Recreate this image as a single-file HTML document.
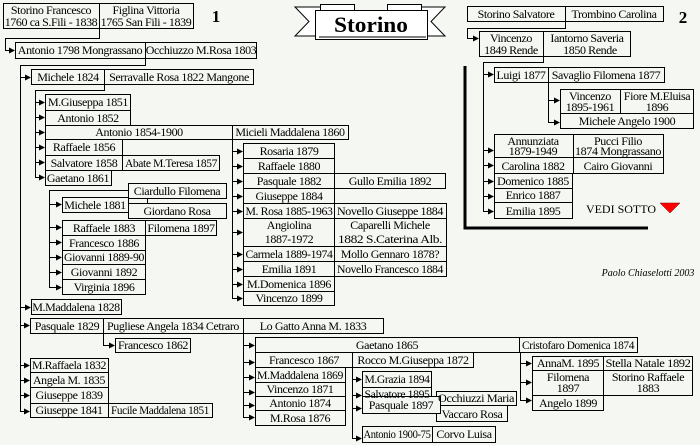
<!DOCTYPE html>
<html><head><meta charset="utf-8"><style>
html,body{margin:0;padding:0;background:#f5f7f2;}
svg{display:block}
text{font-family:"Liberation Serif",serif;font-size:12px;letter-spacing:-0.4px;fill:#000;text-anchor:middle}
</style></head><body>
<svg width="700" height="445" viewBox="0 0 700 445" xmlns="http://www.w3.org/2000/svg">
<g fill="none" stroke="#000" stroke-width="1" shape-rendering="crispEdges">
<path d="M99.5,28 V38.5 H5.5 V50.5 H10"/>
<path d="M145.5,58 V65.5 H20.5 V411.5"/>
<path d="M20,77.5 H26 M20,307.5 H26 M20,325.5 H25 M20,365.5 H25 M20,380.5 H25 M20,395.5 H25 M20,411.5 H25"/>
<path d="M104.5,84 V90.5 H35.5 V177.5"/>
<path d="M35,102.5 H40 M35,117.5 H40 M35,132.5 H40 M35,147.5 H40 M35,162.5 H40 M35,177.5 H40"/>
<path d="M49.5,190.5 H128 M49.5,190 V287.5 M147.5,198 V203"/>
<path d="M49,204.5 H57 M49,227.5 H57 M49,242.5 H57 M49,257.5 H57 M49,272.5 H57 M49,287.5 H57"/>
<path d="M232.5,139 V298.5"/>
<path d="M232,151.5 H238 M232,166.5 H238 M232,181.5 H238 M232,196.5 H238 M232,211.5 H238 M232,232.5 H238 M232,254.5 H238 M232,269.5 H238 M232,284.5 H238 M232,298.5 H238"/>
<path d="M103.5,333 V345.5 H110"/>
<path d="M243.5,333 V417.5"/>
<path d="M243,345.5 H250 M243,362.5 H250 M243,377.5 H250 M243,392.5 H250 M243,405.5 H250 M243,417.5 H250"/>
<path d="M352.5,367 V438.5"/>
<path d="M352,379.5 H357 M352,395.5 H357 M352,408.5 H357 M352,438.5 H357"/>
<path d="M520.5,352 V400.5"/>
<path d="M520,363.5 H527 M520,382.5 H527 M520,400.5 H527"/>
<path d="M565.5,21 V28.5 H467.5 V38.5 H474"/>
<path d="M543.5,56 V62.5 H483.5 V211.5"/>
<path d="M483,74.5 H489 M483,150.5 H489 M483,165.5 H489 M483,181.5 H489 M483,196.5 H489 M483,211.5 H489"/>
<path d="M548.5,82 V122.5"/>
<path d="M548,100.5 H555 M548,122.5 H555"/>
</g>
<polyline points="465,66 465,228 648,228" fill="none" stroke="#000" stroke-width="3"/>
<g fill="#000">
<polygon points="9,47.5 15,50.5 9,53.5"/>
<polygon points="25,74.5 31,77.5 25,80.5"/>
<polygon points="25,304.5 31,307.5 25,310.5"/>
<polygon points="24,322.5 30,325.5 24,328.5"/>
<polygon points="24,362.5 30,365.5 24,368.5"/>
<polygon points="24,377.5 30,380.5 24,383.5"/>
<polygon points="24,392.5 30,395.5 24,398.5"/>
<polygon points="24,408.5 30,411.5 24,414.5"/>
<polygon points="39,99.5 45,102.5 39,105.5"/>
<polygon points="39,114.5 45,117.5 39,120.5"/>
<polygon points="39,129.5 45,132.5 39,135.5"/>
<polygon points="39,144.5 45,147.5 39,150.5"/>
<polygon points="39,159.5 45,162.5 39,165.5"/>
<polygon points="39,174.5 45,177.5 39,180.5"/>
<polygon points="56,201.5 62,204.5 56,207.5"/>
<polygon points="56,224.5 62,227.5 56,230.5"/>
<polygon points="56,239.5 62,242.5 56,245.5"/>
<polygon points="56,254.5 62,257.5 56,260.5"/>
<polygon points="56,269.5 62,272.5 56,275.5"/>
<polygon points="56,284.5 62,287.5 56,290.5"/>
<polygon points="237,148.5 243,151.5 237,154.5"/>
<polygon points="237,163.5 243,166.5 237,169.5"/>
<polygon points="237,178.5 243,181.5 237,184.5"/>
<polygon points="237,193.5 243,196.5 237,199.5"/>
<polygon points="237,208.5 243,211.5 237,214.5"/>
<polygon points="237,229.5 243,232.5 237,235.5"/>
<polygon points="237,251.5 243,254.5 237,257.5"/>
<polygon points="237,266.5 243,269.5 237,272.5"/>
<polygon points="237,281.5 243,284.5 237,287.5"/>
<polygon points="237,295.5 243,298.5 237,301.5"/>
<polygon points="109,342.5 115,345.5 109,348.5"/>
<polygon points="249,342.5 255,345.5 249,348.5"/>
<polygon points="249,359.5 255,362.5 249,365.5"/>
<polygon points="249,374.5 255,377.5 249,380.5"/>
<polygon points="249,389.5 255,392.5 249,395.5"/>
<polygon points="249,402.5 255,405.5 249,408.5"/>
<polygon points="249,414.5 255,417.5 249,420.5"/>
<polygon points="356,376.5 362,379.5 356,382.5"/>
<polygon points="356,392.5 362,395.5 356,398.5"/>
<polygon points="356,405.5 362,408.5 356,411.5"/>
<polygon points="356,435.5 362,438.5 356,441.5"/>
<polygon points="526,360.5 532,363.5 526,366.5"/>
<polygon points="526,379.5 532,382.5 526,385.5"/>
<polygon points="526,397.5 532,400.5 526,403.5"/>
<polygon points="473,35.5 479,38.5 473,41.5"/>
<polygon points="488,71.5 494,74.5 488,77.5"/>
<polygon points="488,147.5 494,150.5 488,153.5"/>
<polygon points="488,162.5 494,165.5 488,168.5"/>
<polygon points="488,178.5 494,181.5 488,184.5"/>
<polygon points="488,193.5 494,196.5 488,199.5"/>
<polygon points="488,208.5 494,211.5 488,214.5"/>
<polygon points="554,97.5 560,100.5 554,103.5"/>
<polygon points="554,119.5 560,122.5 554,125.5"/>
</g>
<polygon points="660,203 680,203 670,213" fill="#ff0000" stroke="#800000" stroke-width="0.5"/>
<g fill="none" stroke="#000" shape-rendering="crispEdges">
<rect x="3.5" y="3.5" width="96" height="25"/><rect x="99.5" y="3.5" width="94" height="25"/>
<rect x="15.5" y="42.5" width="130" height="16"/><rect x="145.5" y="42.5" width="111" height="16"/>
<rect x="31.5" y="69.5" width="73" height="15"/><rect x="104.5" y="69.5" width="149" height="15"/>
<rect x="45.5" y="94.5" width="85" height="16"/><rect x="45.5" y="110.5" width="85" height="15"/>
<rect x="45.5" y="125.5" width="187" height="14"/><rect x="232.5" y="125.5" width="116" height="14"/>
<rect x="45.5" y="139.5" width="77" height="16"/><rect x="45.5" y="155.5" width="77" height="15"/>
<rect x="122.5" y="155.5" width="97" height="15"/><rect x="45.5" y="170.5" width="66" height="15"/>
<rect x="128.5" y="183.5" width="98" height="15"/><rect x="62.5" y="197.5" width="66" height="15"/>
<rect x="128.5" y="203.5" width="98" height="15"/>
<rect x="62.5" y="220.5" width="83" height="15"/><rect x="145.5" y="220.5" width="71" height="15"/>
<rect x="62.5" y="235.5" width="83" height="15"/><rect x="62.5" y="250.5" width="83" height="14"/>
<rect x="62.5" y="264.5" width="83" height="15"/><rect x="62.5" y="279.5" width="83" height="15"/>
<rect x="243.5" y="143.5" width="91" height="15"/><rect x="243.5" y="158.5" width="91" height="15"/>
<rect x="243.5" y="173.5" width="91" height="15"/><rect x="334.5" y="173.5" width="111" height="15"/>
<rect x="243.5" y="188.5" width="91" height="15"/><rect x="243.5" y="203.5" width="91" height="15"/>
<rect x="334.5" y="203.5" width="112" height="15"/><rect x="243.5" y="218.5" width="91" height="28"/>
<rect x="334.5" y="218.5" width="112" height="28"/><rect x="243.5" y="246.5" width="91" height="15"/>
<rect x="334.5" y="246.5" width="112" height="15"/><rect x="243.5" y="261.5" width="91" height="15"/>
<rect x="334.5" y="261.5" width="112" height="15"/><rect x="243.5" y="276.5" width="91" height="15"/>
<rect x="243.5" y="291.5" width="91" height="14"/>
<rect x="31.5" y="299.5" width="90" height="15"/>
<rect x="30.5" y="318.5" width="73" height="15"/><rect x="103.5" y="318.5" width="140" height="15"/>
<rect x="243.5" y="318.5" width="140" height="15"/>
<rect x="115.5" y="338.5" width="75" height="14"/>
<rect x="30.5" y="358.5" width="78" height="14"/><rect x="30.5" y="372.5" width="78" height="15"/>
<rect x="30.5" y="387.5" width="78" height="16"/><rect x="30.5" y="403.5" width="78" height="14"/>
<rect x="108.5" y="403.5" width="104" height="14"/>
<rect x="255.5" y="337.5" width="264" height="15"/><rect x="519.5" y="337.5" width="118" height="15"/>
<rect x="255.5" y="352.5" width="97" height="15"/><rect x="352.5" y="352.5" width="121" height="15"/>
<rect x="255.5" y="367.5" width="90" height="15"/><rect x="255.5" y="382.5" width="90" height="14"/>
<rect x="255.5" y="396.5" width="90" height="14"/><rect x="255.5" y="410.5" width="90" height="15"/>
<rect x="362.5" y="371.5" width="69" height="16"/><rect x="362.5" y="387.5" width="69" height="14"/>
<rect x="436.5" y="391.5" width="80" height="14"/><rect x="436.5" y="405.5" width="71" height="16"/>
<rect x="362.5" y="396.5" width="78" height="17" fill="#f5f7f2"/>
<rect x="362.5" y="426.5" width="70" height="16"/><rect x="432.5" y="426.5" width="63" height="16"/>
<rect x="532.5" y="356.5" width="71" height="14"/><rect x="603.5" y="356.5" width="89" height="14"/>
<rect x="532.5" y="370.5" width="71" height="25"/><rect x="603.5" y="370.5" width="89" height="25"/>
<rect x="532.5" y="395.5" width="71" height="15"/>
<rect x="467.5" y="6.5" width="98" height="15"/><rect x="565.5" y="6.5" width="98" height="15"/>
<rect x="479.5" y="31.5" width="64" height="25"/><rect x="543.5" y="31.5" width="87" height="25"/>
<rect x="494.5" y="67.5" width="54" height="15"/><rect x="548.5" y="67.5" width="116" height="15"/>
<rect x="560.5" y="89.5" width="60" height="24"/><rect x="620.5" y="89.5" width="73" height="24"/>
<rect x="560.5" y="113.5" width="133" height="15"/>
<rect x="494.5" y="134.5" width="79" height="23"/><rect x="573.5" y="134.5" width="90" height="23"/>
<rect x="494.5" y="157.5" width="79" height="16"/><rect x="573.5" y="157.5" width="90" height="16"/>
<rect x="494.5" y="173.5" width="78" height="15"/><rect x="494.5" y="188.5" width="78" height="14"/>
<rect x="494.5" y="202.5" width="78" height="16"/>
</g>
<g fill="#fff" stroke="#000" stroke-width="1">
<polygon points="295,7 322,7 322,36 295,36 309,21.5"/>
<polygon points="445,7 420,7 420,36 445,36 431,21.5"/>
<rect x="320.5" y="4.5" width="34" height="8"/>
<rect x="387.5" y="4.5" width="34" height="8"/>
<rect x="315.5" y="10.5" width="112" height="29"/>
<line x1="319" y1="37" x2="426" y2="37"/>
</g>
<text x="371" y="32" textLength="74" lengthAdjust="spacingAndGlyphs" style="font-size:22px;font-weight:bold;letter-spacing:0">Storino</text>
<text x="216" y="22" style="font-size:17px;font-weight:bold;letter-spacing:0">1</text>
<text x="683" y="23" style="font-size:17px;font-weight:bold;letter-spacing:0">2</text>
<text x="51" y="14">Storino Francesco</text><text x="51" y="26">1760 ca S.Fili - 1838</text>
<text x="146" y="14">Figlina Vittoria</text><text x="146" y="26">1765 San Fili - 1839</text>
<text x="80" y="54">Antonio 1798 Mongrassano</text><text x="201" y="54">Occhiuzzo M.Rosa 1803</text>
<text x="68" y="81">Michele 1824</text><text x="179" y="81">Serravalle Rosa 1822 Mangone</text>
<text x="88" y="106">M.Giuseppa 1851</text><text x="88" y="122">Antonio 1852</text>
<text x="139" y="136">Antonio 1854-1900</text><text x="290" y="136">Micieli Maddalena 1860</text>
<text x="84" y="151">Raffaele 1856</text><text x="84" y="167">Salvatore 1858</text>
<text x="171" y="167" textLength="92" lengthAdjust="spacingAndGlyphs">Abate M.Teresa 1857</text><text x="78" y="182">Gaetano 1861</text>
<text x="177" y="195">Ciardullo Filomena</text><text x="95" y="209">Michele 1881</text>
<text x="177" y="215">Giordano Rosa</text>
<text x="104" y="232">Raffaele 1883</text><text x="181" y="232">Filomena 1897</text>
<text x="104" y="247">Francesco 1886</text><text x="104" y="261" textLength="80" lengthAdjust="spacingAndGlyphs">Giovanni 1889-90</text>
<text x="104" y="276">Giovanni 1892</text><text x="104" y="291">Virginia 1896</text>
<text x="289" y="155">Rosaria 1879</text><text x="289" y="170">Raffaele 1880</text>
<text x="289" y="185">Pasquale 1882</text><text x="390" y="185">Gullo Emilia 1892</text>
<text x="289" y="200">Giuseppe 1884</text><text x="289" y="215" textLength="87" lengthAdjust="spacingAndGlyphs">M. Rosa 1885-1963</text>
<text x="390" y="215" textLength="106" lengthAdjust="spacingAndGlyphs">Novello Giuseppe 1884</text>
<text x="289" y="229">Angiolina</text><text x="289" y="243">1887-1972</text>
<text x="390" y="229">Caparelli Michele</text><text x="390" y="243" textLength="104" lengthAdjust="spacingAndGlyphs">1882 S.Caterina Alb.</text>
<text x="289" y="258" textLength="87" lengthAdjust="spacingAndGlyphs">Carmela 1889-1974</text><text x="390" y="258">Mollo Gennaro 1878?</text>
<text x="289" y="273">Emilia 1891</text><text x="390" y="273" textLength="106" lengthAdjust="spacingAndGlyphs">Novello Francesco 1884</text>
<text x="289" y="288">M.Domenica 1896</text><text x="289" y="302">Vincenzo 1899</text>
<text x="76" y="311">M.Maddalena 1828</text>
<text x="67" y="330">Pasquale 1829</text><text x="173" y="330" textLength="132" lengthAdjust="spacingAndGlyphs">Pugliese Angela 1834 Cetraro</text>
<text x="313" y="330">Lo Gatto Anna M. 1833</text>
<text x="153" y="349">Francesco 1862</text>
<text x="69" y="369" textLength="74" lengthAdjust="spacingAndGlyphs">M.Raffaela 1832</text><text x="69" y="384" textLength="72" lengthAdjust="spacingAndGlyphs">Angela M. 1835</text>
<text x="69" y="399">Giuseppe 1839</text><text x="69" y="414">Giuseppe 1841</text>
<text x="160" y="414" textLength="98" lengthAdjust="spacingAndGlyphs">Fucile Maddalena 1851</text>
<text x="387" y="349">Gaetano 1865</text><text x="578" y="349" textLength="112" lengthAdjust="spacingAndGlyphs">Cristofaro Domenica 1874</text>
<text x="304" y="364">Francesco 1867</text><text x="413" y="364">Rocco M.Giuseppa 1872</text>
<text x="300" y="379" textLength="86" lengthAdjust="spacingAndGlyphs">M.Maddalena 1869</text><text x="300" y="393">Vincenzo 1871</text>
<text x="300" y="407">Antonio 1874</text><text x="300" y="422">M.Rosa 1876</text>
<text x="397" y="383" textLength="65" lengthAdjust="spacingAndGlyphs">M.Grazia 1894</text><text x="397" y="398" textLength="65" lengthAdjust="spacingAndGlyphs">Salvatore 1895</text>
<text x="476" y="402" textLength="76" lengthAdjust="spacingAndGlyphs">Occhiuzzi Maria</text><text x="472" y="418">Vaccaro Rosa</text>
<text x="401" y="409">Pasquale 1897</text>
<text x="397" y="438" textLength="67" lengthAdjust="spacingAndGlyphs">Antonio 1900-75</text><text x="464" y="438">Corvo Luisa</text>
<text x="568" y="367">AnnaM. 1895</text><text x="648" y="367" textLength="85" lengthAdjust="spacingAndGlyphs">Stella Natale 1892</text>
<text x="568" y="381">Filomena</text><text x="568" y="392">1897</text>
<text x="648" y="381">Storino Raffaele</text><text x="648" y="392">1883</text>
<text x="568" y="407">Angelo 1899</text>
<text x="516" y="18">Storino Salvatore</text><text x="614" y="18">Trombino Carolina</text>
<text x="511" y="42">Vincenzo</text><text x="511" y="54">1849 Rende</text>
<text x="587" y="42">Iantorno Saveria</text><text x="590" y="54">1850 Rende</text>
<text x="521" y="79">Luigi 1877</text><text x="606" y="79">Savaglio Filomena 1877</text>
<text x="590" y="100">Vincenzo</text><text x="590" y="111">1895-1961</text>
<text x="657" y="100">Fiore M.Eluisa</text><text x="657" y="111">1896</text>
<text x="627" y="125">Michele Angelo 1900</text>
<text x="533" y="145">Annunziata</text><text x="533" y="155">1879-1949</text>
<text x="618" y="145">Pucci Filio</text><text x="618" y="155" textLength="86" lengthAdjust="spacingAndGlyphs">1874 Mongrassano</text>
<text x="533" y="170">Carolina 1882</text><text x="618" y="170">Cairo Giovanni</text>
<text x="533" y="185">Domenico 1885</text><text x="533" y="199">Enrico 1887</text>
<text x="533" y="215">Emilia 1895</text>
<text x="621" y="213" style="letter-spacing:0">VEDI SOTTO</text>
<text x="648" y="276" style="font-size:10px;font-style:italic;letter-spacing:0">Paolo Chiaselotti 2003</text>
</svg>
</body></html>
